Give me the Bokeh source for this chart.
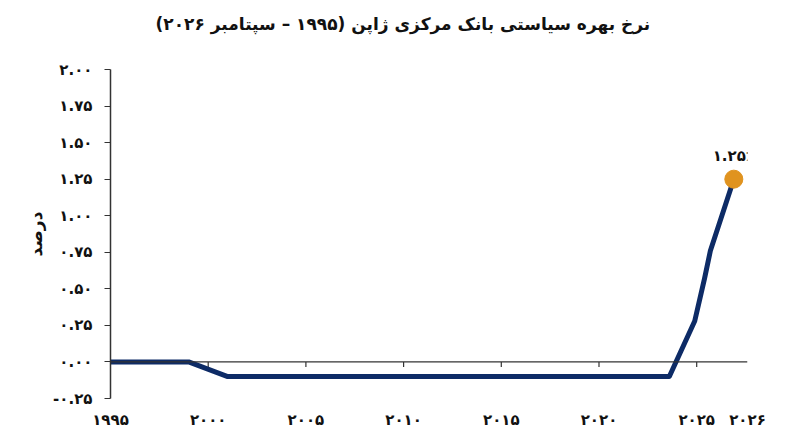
from bokeh.plotting import figure
from bokeh.models import FixedTicker, Range1d, Span, Title
from bokeh.embed import file_html
from bokeh.resources import INLINE
from bokeh.core.properties import value

# ---- data ----
title_text = "\u202Bنرخ بهره سیاستی بانک مرکزی ژاپن (۱۹۹۵ – سپتامبر ۲۰۲۶)\u202C"
y_label = "درصد"
years = [1995.0, 1999.0, 2001.0, 2023.6, 2024.9, 2025.4, 2025.7, 2026.9]
rate = [0.0, 0.0, -0.1, -0.1, 0.28, 0.57, 0.76, 1.25]
last_label = "۱.۲۵٪"
x_ticks = [1995, 2000, 2005, 2010, 2015, 2020, 2025, 2027.6]
x_tick_labels = ["۱۹۹۵", "۲۰۰۰", "۲۰۰۵", "۲۰۱۰", "۲۰۱۵", "۲۰۲۰", "۲۰۲۵", "۲۰۲۶"]
zero_line_ticks = [2000, 2005, 2010, 2015, 2020, 2025]
y_ticks = [-0.25, 0.0, 0.25, 0.5, 0.75, 1.0, 1.25, 1.5, 1.75, 2.0]
y_tick_labels = ["-۰.۲۵", "۰.۰۰", "۰.۲۵", "۰.۵۰", "۰.۷۵", "۱.۰۰", "۱.۲۵", "۱.۵۰", "۱.۷۵", "۲.۰۰"]

FONT = "DejaVu Sans"
NAVY = "#0d2b66"
ORANGE = "#e0931f"

p = figure(width=784, height=431, output_backend="svg", toolbar_location=None,
           x_range=Range1d(1995, 2027.6), y_range=Range1d(-0.25, 2.0),
           min_border_left=110, min_border_right=37, min_border_top=69, min_border_bottom=33)
p.outline_line_color = None
p.xgrid.grid_line_color = None
p.ygrid.grid_line_color = None
p.background_fill_color = "white"
p.border_fill_color = "white"

p.title.text = title_text
p.title.align = "left"
p.title.text_font = FONT
p.title.text_font_size = "17px"
p.title.text_font_style = "bold"
p.title.text_color = "#111111"
p.title.offset = 45

# spacer between title and plot area
p.add_layout(Title(text="\u00a0", text_font_size="17px"), "above")

# x axis: labels only at bottom
xa = p.xaxis[0]
xa.ticker = FixedTicker(ticks=x_ticks)
xa.major_label_overrides = {t: l for t, l in zip(x_ticks, x_tick_labels)}
xa.axis_line_color = None
xa.major_tick_line_color = None
xa.minor_tick_line_color = None
xa.major_tick_in = 0
xa.major_tick_out = 0
xa.major_label_standoff = 12
xa.major_label_text_font = FONT
xa.major_label_text_font_size = "15px"
xa.major_label_text_font_style = "bold"
xa.major_label_text_color = "#111111"

# y axis
ya = p.yaxis[0]
ya.ticker = FixedTicker(ticks=y_ticks)
ya.major_label_overrides = {t: l for t, l in zip(y_ticks, y_tick_labels)}
ya.axis_line_color = "#333333"
ya.axis_line_width = 1.5
ya.major_tick_line_color = "#333333"
ya.major_tick_out = 6
ya.major_tick_in = 0
ya.minor_tick_line_color = None
ya.major_label_standoff = 12
ya.major_label_text_font = FONT
ya.major_label_text_font_size = "15px"
ya.major_label_text_font_style = "bold"
ya.major_label_text_color = "#111111"
ya.axis_label = y_label
ya.axis_label_text_font = FONT
ya.axis_label_text_font_size = "17px"
ya.axis_label_text_font_style = "bold"
ya.axis_label_text_color = "#111111"
ya.axis_label_standoff = 4

# zero line with small downward ticks
p.add_layout(Span(location=0, dimension="width", line_color="#333333", line_width=1.2))
p.segment(x0=zero_line_ticks, y0=[0] * len(zero_line_ticks),
          x1=zero_line_ticks, y1=[-0.035] * len(zero_line_ticks),
          line_color="#333333", line_width=1.2)

# series
p.line(years, rate, line_color=NAVY, line_width=5, line_join="round")
p.scatter([years[-1]], [rate[-1]], size=18, fill_color=ORANGE, line_color=ORANGE)
p.text(x=[years[-1]], y=[rate[-1]], text=[last_label], text_font=value(FONT),
       text_font_size="15px", text_font_style="bold", text_color="#111111",
       text_align="center", text_baseline="middle", y_offset=-23)

open("out.html", "w").write(file_html(p, INLINE))
